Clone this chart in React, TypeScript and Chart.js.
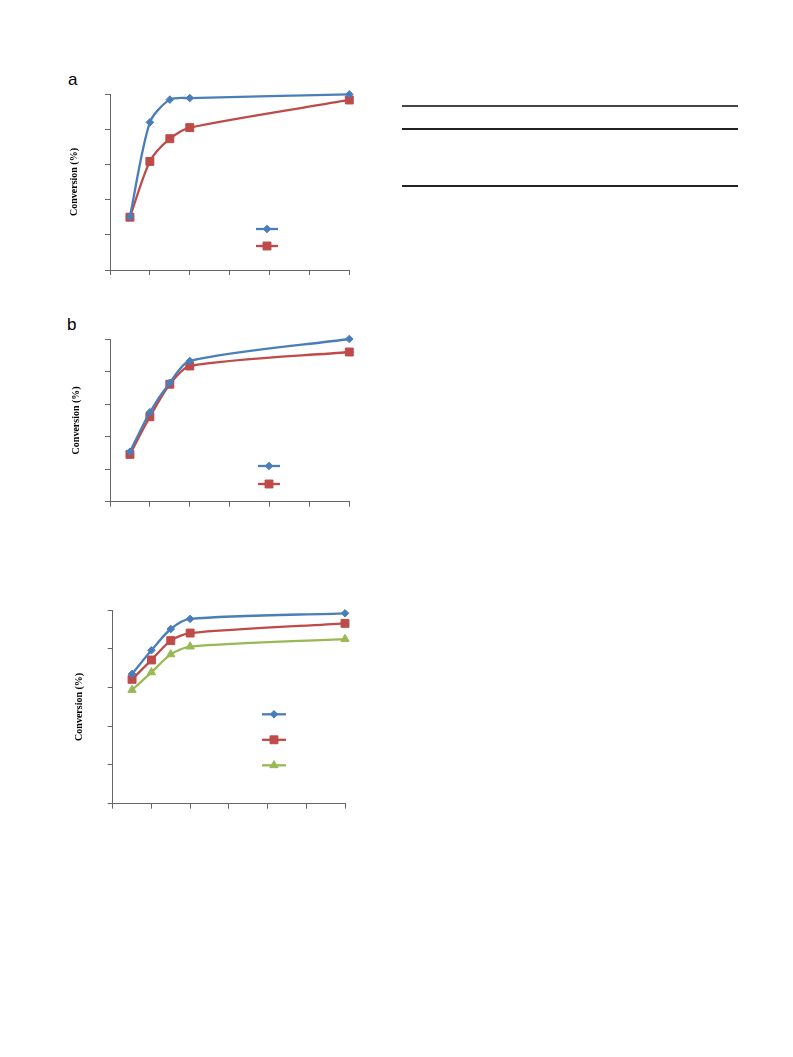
import React, { useEffect, useRef } from "react";
import { Chart, registerables } from "chart.js";
import { drawPoint } from "chart.js/helpers";

Chart.register(...registerables);

// ---- data ----
const xValues = [0.5, 1, 1.5, 2, 6];
const xTicks = [0, 1, 2, 3, 4, 5, 6];
const yTicks = [0, 20, 40, 60, 80, 100];

const aSeries1 = [30.3, 83.9, 96.8, 97.7, 99.8];
const aSeries2 = [30.0, 61.7, 74.6, 80.9, 96.6];

const bSeries1 = [30.7, 55.0, 73.1, 86.5, 100.0];
const bSeries2 = [29.1, 52.2, 72.2, 83.4, 92.0];

const cSeries1 = [67.0, 79.2, 90.2, 95.4, 98.3];
const cSeries2 = [64.2, 74.2, 84.2, 88.1, 93.1];
const cSeries3 = [58.7, 67.8, 77.1, 81.1, 85.0];

const yTitle = "Conversion (%)";

const BLUE = "#4A7EBB";
const RED = "#BE4B48";
const GREEN = "#98B954";
const AXIS = "#666666";

type Style = { color: string; pointStyle: string; radius: number };
const STYLES: Style[] = [
  { color: BLUE, pointStyle: "rectRot", radius: 3.8 },
  { color: RED, pointStyle: "rect", radius: 5.6 },
  { color: GREEN, pointStyle: "triangle", radius: 4.8 },
];

const legendPlugin = {
  id: "lineLegend",
  afterDraw(chart: any, _args: any, opts: any) {
    const { ctx } = chart;
    const { x1, x2, y, gap } = opts;
    chart.data.datasets.forEach((ds: any, i: number) => {
      const yy = y + i * gap;
      ctx.save();
      ctx.strokeStyle = ds.borderColor;
      ctx.lineWidth = ds.borderWidth;
      ctx.beginPath();
      ctx.moveTo(x1, yy);
      ctx.lineTo(x2, yy);
      ctx.stroke();
      ctx.fillStyle = ds.pointBackgroundColor;
      ctx.strokeStyle = ds.pointBorderColor;
      ctx.lineWidth = 1;
      drawPoint(ctx, { pointStyle: ds.pointStyle, radius: ds.pointRadius, rotation: 0, borderWidth: 1 }, (x1 + x2) / 2, yy);
      ctx.restore();
    });
  },
};

type Spec = {
  series: number[][];
  left: number;
  top: number;
  width: number;
  height: number;
  padding: { left: number; right: number; top: number; bottom: number };
  titlePad: number;
  legend: { x1: number; x2: number; y: number; gap: number };
};

function ChartBox({ spec }: { spec: Spec }) {
  const ref = useRef<HTMLCanvasElement | null>(null);
  useEffect(() => {
    if (!ref.current) return;
    const datasets = spec.series.map((vals, i) => {
      const s = STYLES[i];
      return {
        label: "",
        data: xValues.map((x, j) => ({ x, y: vals[j] })),
        borderColor: s.color,
        backgroundColor: s.color,
        pointBackgroundColor: s.color,
        pointBorderColor: s.color,
        pointBorderWidth: 1,
        borderWidth: 2.3,
        pointStyle: s.pointStyle,
        pointRadius: s.radius,
        tension: 0.27,
        clip: false as any,
        fill: false,
      };
    });
    const chart = new Chart(ref.current, {
      type: "line",
      data: { datasets },
      plugins: [legendPlugin],
      options: {
        animation: false,
        responsive: false,
        devicePixelRatio: 1,
        layout: { padding: spec.padding },
        plugins: {
          legend: { display: false },
          tooltip: { enabled: false },
          lineLegend: spec.legend,
        } as any,
        scales: {
          x: {
            type: "linear",
            min: xTicks[0],
            max: xTicks[xTicks.length - 1],
            afterBuildTicks: (axis: any) => {
              axis.ticks = xTicks.map((v) => ({ value: v }));
            },
            ticks: { display: false },
            grid: { display: true, drawOnChartArea: false, drawTicks: true, tickLength: 5, color: AXIS, lineWidth: 1 },
            border: { display: true, color: AXIS, width: 1 },
          },
          y: {
            type: "linear",
            min: yTicks[0],
            max: yTicks[yTicks.length - 1],
            afterBuildTicks: (axis: any) => {
              axis.ticks = yTicks.map((v) => ({ value: v }));
            },
            ticks: { display: false },
            grid: { display: true, drawOnChartArea: false, drawTicks: true, tickLength: 5, color: AXIS, lineWidth: 1 },
            border: { display: true, color: AXIS, width: 1 },
            title: {
              display: true,
              text: yTitle,
              color: "#000",
              font: { family: "'Liberation Serif', 'Times New Roman', serif", size: 10, weight: "bold", lineHeight: 1.2 },
              padding: { top: 0, bottom: spec.titlePad },
            },
          },
        },
      } as any,
    });
    return () => chart.destroy();
  }, [spec]);
  return (
    <canvas
      ref={ref}
      width={spec.width}
      height={spec.height}
      style={{ position: "absolute", left: spec.left, top: spec.top, width: spec.width, height: spec.height }}
    />
  );
}

const specA: Spec = {
  series: [aSeries1, aSeries2],
  left: 40,
  top: 84,
  width: 330,
  height: 200,
  padding: { left: 28.5, right: 20.7, top: 10, bottom: 9 },
  titlePad: 24.5,
  legend: { x1: 216, x2: 238, y: 145, gap: 17 },
};

const specB: Spec = {
  series: [bSeries1, bSeries2],
  left: 40,
  top: 329,
  width: 330,
  height: 187,
  padding: { left: 30, right: 20.7, top: 10, bottom: 9.3 },
  titlePad: 23,
  legend: { x1: 218, x2: 240, y: 137, gap: 18 },
};

const specC: Spec = {
  series: [cSeries1, cSeries2, cSeries3],
  left: 40,
  top: 600,
  width: 330,
  height: 218,
  padding: { left: 33, right: 25, top: 10, bottom: 9.3 },
  titlePad: 22.7,
  legend: { x1: 222, x2: 246, y: 114.3, gap: 25.5 },
};

const panelLabel: React.CSSProperties = {
  position: "absolute",
  fontFamily: "'Liberation Sans', Arial, sans-serif",
  fontSize: 17,
  lineHeight: "17px",
  color: "#000",
};

const rule = (top: number, color: string): React.CSSProperties => ({
  position: "absolute",
  left: 402,
  width: 336,
  top,
  height: 2,
  background: color,
});

export default function App() {
  return (
    <div style={{ position: "absolute", left: 0, top: 0, width: 793, height: 1057, background: "#fff", overflow: "hidden" }}>
      <div style={{ ...panelLabel, left: 68, top: 71 }}>a</div>
      <div style={{ ...panelLabel, left: 67, top: 316 }}>b</div>
      <ChartBox spec={specA} />
      <ChartBox spec={specB} />
      <ChartBox spec={specC} />
      <div style={rule(105, "#444")} />
      <div style={rule(128, "#222")} />
      <div style={rule(185, "#222")} />
    </div>
  );
}
